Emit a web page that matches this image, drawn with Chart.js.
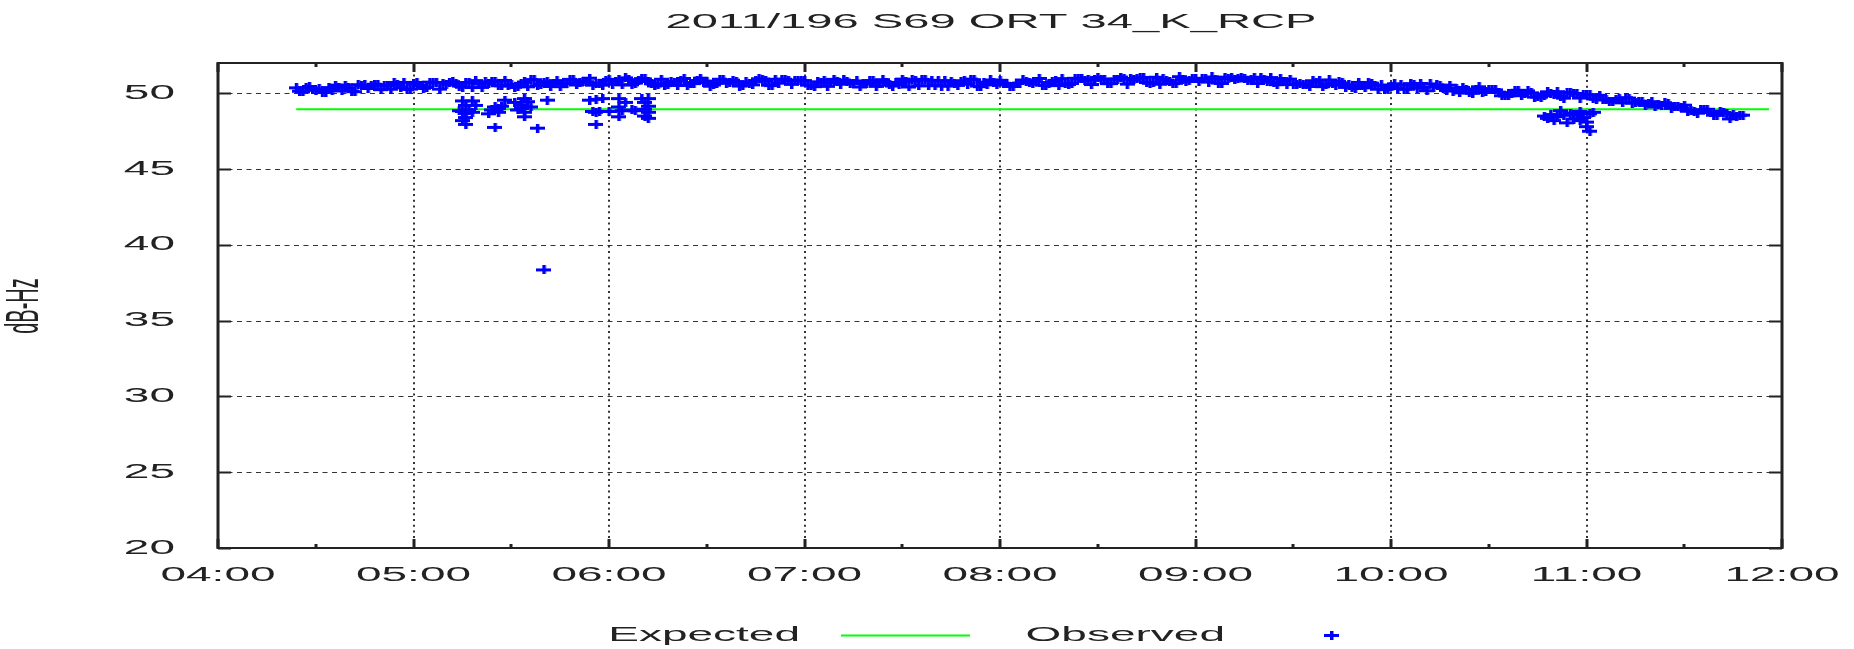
<!DOCTYPE html>
<html>
<head>
<meta charset="utf-8">
<title>2011/196 S69 ORT 34_K_RCP</title>
<script src="https://cdn.jsdelivr.net/npm/chart.js@4.4.1/dist/chart.umd.min.js"></script>
<style>
  html, body { margin: 0; padding: 0; background: #fff; }
  #chart { display: block; }
</style>
</head>
<body>
<canvas id="chart" width="1854" height="649"></canvas>
<script>
/* ===== data ===== */
const chartTitle = '2011/196 S69 ORT 34_K_RCP';
const yAxisTitle = 'dB-Hz';
const seriesNames = ['Expected', 'Observed'];
const xTickLabels = ['04:00', '05:00', '06:00', '07:00', '08:00', '09:00', '10:00', '11:00', '12:00'];
const xMinorTicks = ['04:30', '05:30', '06:30', '07:30', '08:30', '09:30', '10:30', '11:30'];
const yTicks = [20, 25, 30, 35, 40, 45, 50];
const yMin = 20, yMax = 52;

const expectedTimes = ['04:24', '11:56'];
const expectedValues = [48.95, 48.95];

// main band, readings on even minutes from 04:24
const observedStart = '04:24';
const observedStepMin = 2;
const observedBand = [
    50.36, 50.10, 50.45, 50.21, 50.07, 50.38, 50.54, 50.16, 50.37, 50.11, 50.51, 50.32, 50.60, 50.24, 50.51, 50.71, 50.36, 50.26,
    50.62, 50.51, 50.38, 50.71, 50.28, 50.61, 50.77, 50.48, 50.71, 50.38, 50.61, 50.76, 50.77, 50.50, 50.85, 50.60, 50.44, 50.75, 50.90, 50.51, 50.72, 50.45, 50.84, 50.65, 50.92, 50.55, 50.81, 51.00, 50.65, 50.54,
    50.92, 50.78, 50.56, 50.90, 50.68, 50.97, 50.81, 50.49, 50.93, 50.61, 50.74, 50.86, 50.52, 50.64, 51.00, 50.81, 50.55, 50.93, 50.67, 50.87, 50.48, 50.76, 50.56, 50.96, 50.82, 50.51, 50.67, 50.93, 50.59, 50.87,
    50.84, 50.52, 50.76, 50.86, 50.70, 50.78, 50.88, 50.68, 50.82, 50.64, 50.82, 50.46, 50.90, 50.56, 50.72, 50.94, 50.42, 50.84, 50.92, 50.50, 50.54, 50.48, 50.48, 50.62, 50.80, 50.60, 50.90, 50.44, 50.58, 50.74,
    50.86, 50.65, 50.45, 50.68, 50.80, 50.65, 50.98, 50.52, 50.77, 50.51, 50.62, 50.65, 50.97, 50.84, 50.58, 51.05, 50.94, 50.64, 50.93, 50.97, 50.96, 51.01, 51.05, 50.66, 51.06, 50.95, 50.76, 50.66, 50.91, 50.87,
    50.98, 50.99, 50.74, 50.94, 50.65, 50.98, 50.89, 51.06, 50.82, 51.03, 51.06, 50.80, 50.71, 50.97, 50.58, 50.58, 50.66, 50.59, 50.83, 50.86, 50.56, 50.66, 50.79, 50.39, 50.36, 50.72, 50.36, 50.67, 50.27, 50.24,
    50.44, 50.32, 50.28, 50.64, 50.34, 50.40, 50.62, 50.56, 50.32, 50.54, 50.34, 50.39, 50.03, 50.28, 50.06, 50.27, 50.23, 49.84, 49.84, 50.19, 49.84, 50.16, 49.75, 49.75, 50.10, 49.94, 49.79, 50.04, 49.98, 49.69,
    49.89, 49.63, 49.87, 49.62, 49.45, 49.65, 49.71, 49.35, 49.47, 49.20, 49.45, 49.23, 49.38, 49.01, 49.14, 49.22, 48.86, 48.69, 48.90, 48.73, 48.55, 48.73, 48.31, 48.50, 48.56
];
// same band, readings on odd minutes from 04:25
const observedStartOdd = '04:25';
const observedBandOdd = [
    50.14, 50.38, 50.23, 50.29, 50.07, 50.18, 50.40, 50.54, 50.15, 50.57, 50.55, 50.52, 50.56, 50.54, 50.27, 50.59, 50.72, 50.28,
    50.72, 50.33, 50.74, 50.71, 50.68, 50.71, 50.67, 50.40, 50.71, 50.84, 50.39, 50.66, 50.81, 50.50, 50.49, 50.40, 50.66, 50.43, 50.90, 50.59, 50.76, 50.65, 50.44, 50.65, 50.88, 50.73, 50.77, 50.54, 50.65, 50.86,
    50.60, 50.90, 51.02, 50.56, 50.82, 50.95, 50.63, 50.61, 50.51, 50.77, 50.52, 50.98, 50.66, 50.82, 50.70, 50.47, 50.67, 50.89, 50.73, 50.77, 50.52, 50.62, 50.82, 50.94, 50.54, 50.93, 50.89, 50.85, 50.87, 50.83,
    50.54, 50.44, 50.70, 50.46, 50.92, 50.60, 50.76, 50.64, 50.42, 50.62, 50.84, 50.68, 50.72, 50.48, 50.58, 50.78, 50.90, 50.50, 50.90, 50.86, 50.82, 50.84, 50.80, 50.52, 50.82, 50.94, 50.48, 50.74, 50.88, 50.56,
    50.66, 50.45, 50.65, 50.88, 50.72, 50.77, 50.54, 50.64, 50.85, 50.97, 50.58, 50.99, 50.95, 50.92, 50.94, 50.91, 50.64, 50.94, 51.07, 50.61, 50.88, 51.03, 50.71, 50.70, 50.60, 50.87, 50.64, 51.10, 50.79, 50.95,
    50.78, 50.97, 51.08, 50.68, 51.07, 51.02, 50.97, 50.98, 50.94, 50.65, 50.94, 51.04, 50.57, 50.81, 50.94, 50.60, 50.56, 50.45, 50.69, 50.44, 50.88, 50.54, 50.69, 50.55, 50.32, 50.50, 50.70, 50.53, 50.55, 50.30,
    50.63, 50.57, 50.27, 50.55, 50.65, 50.17, 50.41, 50.53, 50.19, 50.15, 50.03, 50.26, 50.00, 50.43, 50.09, 50.22, 50.08, 49.83, 50.01, 50.20, 50.01, 50.03, 49.76, 49.84, 50.01, 50.11, 49.68, 50.05, 49.99, 49.92,
    49.91, 49.61, 49.56, 49.44, 49.61, 49.37, 49.69, 49.40, 49.48, 49.34, 49.10, 49.20, 49.32, 49.12, 49.08, 48.82, 48.83, 48.92, 48.95, 48.56, 48.81, 48.70, 48.60, 48.55
];

// dropouts below the band
const outlierTimes = [
    '05:15', '05:18', '05:16', '05:19', '05:15', '05:16', '05:17', '05:16', '05:15', '05:16', '05:18', '05:14',
    '05:25', '05:24', '05:26', '05:27', '05:23', '05:28', '05:25', '05:26',
    '05:31', '05:33', '05:35', '05:34', '05:32', '05:34', '05:36', '05:34', '05:33', '05:41', '05:38', '05:40',
    '05:54', '05:56', '05:58', '05:55', '05:56', '05:57', '05:56', '06:03', '06:03', '06:04', '06:03', '06:05', '06:07', '06:08',
    '06:10', '06:12', '06:11', '06:12', '06:11', '06:12', '06:11', '06:12', '06:00',
    '10:47', '10:48', '10:49', '10:50', '10:51', '10:52', '10:53', '10:54', '10:55', '10:57', '10:56', '10:58', '10:59', '11:00', '11:00', '11:01', '11:01', '11:02', '10:58'
];
const outlierValues = [
    49.50, 49.50, 49.20, 49.20, 48.80, 48.70, 48.85, 48.40, 48.20, 47.95, 48.75, 48.85,
    49.10, 48.90, 48.75, 49.15, 48.65, 49.55, 47.75, 49.00,
    49.40, 49.25, 49.45, 49.65, 48.90, 48.75, 49.10, 48.45, 49.00, 49.55, 47.70, 38.35,
    49.55, 49.60, 49.65, 48.80, 48.75, 48.80, 47.95, 49.65, 49.10, 48.85, 48.45, 49.40, 48.90, 48.85,
    49.65, 49.65, 49.40, 49.15, 48.95, 48.75, 48.50, 48.35, 48.80,
    48.50, 48.35, 48.60, 48.20, 48.45, 48.85, 48.55, 48.05, 48.70, 48.60, 48.30, 48.80, 48.40, 48.10, 47.80, 47.50, 48.65, 48.75, 48.20
];

/* ===== helpers ===== */
const toMin = t => { const [h, m] = t.split(':').map(Number); return h * 60 + m; };
const TEXT_SX = 2.3;          // picture is stretched horizontally
const FONT = "20px 'Liberation Sans', Arial, sans-serif";

function stretchText(ctx, txt, x, y, align, font, rotate) {
    ctx.save();
    ctx.translate(x, y);
    ctx.scale(TEXT_SX, 1);
    if (rotate) ctx.rotate(rotate);
    ctx.font = font || FONT;
    ctx.fillStyle = '#222';
    ctx.textAlign = align;
    ctx.textBaseline = 'middle';
    ctx.fillText(txt, 0, 0);
    ctx.restore();
}

const plusMark = (() => {
    const c = document.createElement('canvas');
    c.width = 15; c.height = 9;
    const g = c.getContext('2d');
    g.fillStyle = '#0000ff';
    g.fillRect(0, 3, 15, 3);
    g.fillRect(6, 0, 3.5, 9);
    return c;
})();

const bandPoints = (start, values) => values.map((v, i) => ({ x: toMin(start) + i * observedStepMin, y: v }));
const observedPoints = bandPoints(observedStart, observedBand)
    .concat(bandPoints(observedStartOdd, observedBandOdd))
    .concat(outlierTimes.map((t, i) => ({ x: toMin(t), y: outlierValues[i] })));

/* ===== frame, grid, text (gnuplot look) ===== */
const gnuplotFrame = {
    id: 'gnuplotFrame',
    beforeDatasetsDraw(chart) {
        const { ctx, chartArea: a, scales: { x, y } } = chart;
        ctx.save();
        ctx.strokeStyle = '#333'; ctx.lineWidth = 1; ctx.setLineDash([5, 4.5]);
        yTicks.forEach(v => {
            if (v <= yMin) return;
            const py = Math.round(y.getPixelForValue(v)) + 0.5;
            ctx.beginPath(); ctx.moveTo(a.left, py); ctx.lineTo(a.right, py); ctx.stroke();
        });
        ctx.strokeStyle = '#333'; ctx.lineWidth = 2; ctx.setLineDash([2, 3.7]);
        xTickLabels.slice(1, -1).forEach(t => {
            const px = Math.round(x.getPixelForValue(toMin(t)));
            ctx.beginPath(); ctx.moveTo(px, a.top); ctx.lineTo(px, a.bottom); ctx.stroke();
        });
        ctx.restore();
    },
    afterDatasetsDraw(chart) {
        const { ctx, chartArea: a, scales: { x, y } } = chart;
        ctx.save();
        ctx.setLineDash([]);
        ctx.strokeStyle = '#222';

        // ticks, pointing inward on all four sides
        ctx.lineWidth = 2;
        yTicks.forEach(v => {
            const py = Math.round(y.getPixelForValue(v)) + 0.5;
            ctx.beginPath();
            ctx.moveTo(a.left, py); ctx.lineTo(a.left + 13, py);
            ctx.moveTo(a.right - 13, py); ctx.lineTo(a.right, py);
            ctx.stroke();
        });
        ctx.lineWidth = 3;
        xTickLabels.forEach(t => {
            const px = Math.round(x.getPixelForValue(toMin(t)));
            ctx.beginPath();
            ctx.moveTo(px, a.bottom); ctx.lineTo(px, a.bottom - 9);
            ctx.moveTo(px, a.top); ctx.lineTo(px, a.top + 9);
            ctx.stroke();
        });
        xMinorTicks.forEach(t => {
            const px = Math.round(x.getPixelForValue(toMin(t)));
            ctx.beginPath();
            ctx.moveTo(px, a.bottom); ctx.lineTo(px, a.bottom - 4);
            ctx.moveTo(px, a.top); ctx.lineTo(px, a.top + 4);
            ctx.stroke();
        });

        // border
        ctx.lineWidth = 2;
        ctx.beginPath();
        ctx.moveTo(a.left, a.top); ctx.lineTo(a.right, a.top);
        ctx.moveTo(a.left, a.bottom); ctx.lineTo(a.right, a.bottom);
        ctx.stroke();
        ctx.lineWidth = 3;
        ctx.beginPath();
        ctx.moveTo(a.left, a.top - 1); ctx.lineTo(a.left, a.bottom + 1);
        ctx.moveTo(a.right, a.top - 1); ctx.lineTo(a.right, a.bottom + 1);
        ctx.stroke();

        // labels
        yTicks.forEach(v => stretchText(ctx, String(v), 175, y.getPixelForValue(v), 'right'));
        xTickLabels.forEach(t => stretchText(ctx, t, x.getPixelForValue(toMin(t)), 575, 'center'));
        stretchText(ctx, yAxisTitle, 25, 306, 'center', null, -Math.PI / 2);
        stretchText(ctx, chartTitle, 991, 22, 'center', "20.5px 'Liberation Sans', Arial, sans-serif");

        // key
        stretchText(ctx, seriesNames[0], 800, 635, 'right');
        ctx.strokeStyle = '#00ff00'; ctx.lineWidth = 2;
        ctx.beginPath(); ctx.moveTo(841, 635.5); ctx.lineTo(970, 635.5); ctx.stroke();
        stretchText(ctx, seriesNames[1], 1225, 635, 'right');
        ctx.drawImage(plusMark, 1331 - 7, 635 - 4);
        ctx.restore();
    }
};

new Chart(document.getElementById('chart'), {
    type: 'scatter',
    data: {
        datasets: [
            {
                label: seriesNames[0], type: 'line', order: 2,
                data: expectedTimes.map((t, i) => ({ x: toMin(t), y: expectedValues[i] })),
                borderColor: '#00ff00', borderWidth: 2, pointRadius: 0, fill: false
            },
            {
                label: seriesNames[1], order: 1,
                data: observedPoints,
                pointStyle: plusMark, pointRadius: 4, showLine: false
            }
        ]
    },
    options: {
        responsive: false, animation: false, events: [],
        layout: { padding: { left: 218, top: 63, right: 72, bottom: 101 } },
        plugins: { legend: { display: false }, tooltip: { enabled: false }, title: { display: false } },
        scales: {
            x: { type: 'linear', min: toMin(xTickLabels[0]), max: toMin(xTickLabels[xTickLabels.length - 1]), display: false },
            y: { type: 'linear', min: yMin, max: yMax, display: false }
        }
    },
    plugins: [gnuplotFrame]
});
</script>
</body>
</html>
